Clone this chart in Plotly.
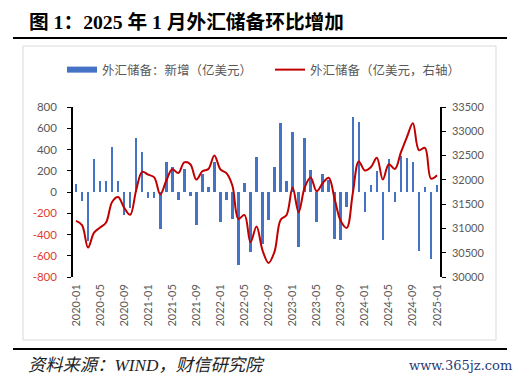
import plotly.graph_objects as go

# ---------------- data ----------------
months = [f"{y}-{m:02d}" for y in range(2020, 2025) for m in range(1, 13)] + ["2025-01"]

reserve_change = [
    76, -88, -461, 309, 102, 106, 421, 102, -220, -146, 505, 380,
    -58, -57, -350, 282, 236, -78, 219, -38, -315, 170, 48, 278,
    -286, -78, -258, -683, 81, -565, 328, -492, -259, 234, 651, 102,
    568, -513, 507, 209, -283, 165, 113, -442, -450, -139, 706, 662,
    -187, 65, 199, -449, 312, -96, 340, 318, 282, -553, 48, -635,
    69,
]

reserves = [
    31155, 31067, 30606, 30915, 31017, 31123, 31544, 31646, 31426, 31280, 31785, 32165,
    32107, 32050, 31700, 31982, 32218, 32140, 32359, 32321, 32006, 32176, 32224, 32502,
    32216, 32138, 31880, 31197, 31278, 30713, 31041, 30549, 30290, 30524, 31175, 31277,
    31845, 31332, 31839, 32048, 31765, 31930, 32043, 31601, 31151, 31012, 31718, 32380,
    32193, 32258, 32457, 32008, 32320, 32224, 32564, 32882, 33164, 32611, 32659, 32024,
    32093,
]

x_tick_idx = list(range(0, 61, 4))
x_tick_text = [months[i] for i in x_tick_idx]
left_ticks = [800, 600, 400, 200, 0, -200, -400, -600, -800]
right_ticks = [30000, 30500, 31000, 31500, 32000, 32500, 33000, 33500]
right_tick_text = [str(v) for v in right_ticks]

title_text = "图 1：2025 年 1 月外汇储备环比增加"
bar_name = "外汇储备：新增（亿美元）"
line_name = "外汇储备（亿美元，右轴）"
source_text = "资料来源：WIND，财信研究院"
watermark_text = "www.365jz.com"

# ---------------- style ----------------
OFF = 8                      # default page margin of the browser body
WIN_W, WIN_H = 522, 379
W, H = WIN_W - OFF, WIN_H - OFF
PLOT_L, PLOT_R, PLOT_T, PLOT_B = 73, 440, 107, 277   # window pixels
ML, MT = PLOT_L - OFF, PLOT_T - OFF
MR, MB = W - (PLOT_R - OFF), H - (PLOT_B - OFF)
PW, PH = PLOT_R - PLOT_L, PLOT_B - PLOT_T

BLUE = "#4472C4"
RED = "#C00000"
GRAY = "#595959"
NEG_RED = "#E03C31"
TICK_FONT = "Lato, Open Sans, sans-serif"
CJK = "Noto Sans CJK SC"


def px_x(x):
    return (x - PLOT_L) / PW


def px_y(y):
    return (PLOT_B - y) / PH


xs = list(range(len(months)))

left_tick_text = [
    (f'<span style="color:{NEG_RED}">{v}</span>' if v < 0 else str(v)) for v in left_ticks
]

fig = go.Figure()
fig.add_trace(go.Bar(
    x=xs, y=reserve_change, marker_color=BLUE, marker_line_width=0,
    width=0.42, name=bar_name, showlegend=False, legendgroup="b",
))
fig.add_trace(go.Scatter(
    x=xs, y=reserves, yaxis="y2", mode="lines",
    line=dict(color=RED, width=2, shape="spline", smoothing=1.0),
    name=line_name, showlegend=False, legendgroup="l",
))
# legend entries
fig.add_trace(go.Scatter(x=[None], y=[None], mode="lines",
                         line=dict(color=BLUE, width=6), name=bar_name, legendgroup="b"))
fig.add_trace(go.Scatter(x=[None], y=[None], mode="lines",
                         line=dict(color=RED, width=2), name=line_name, legendgroup="l"))

fig.update_layout(
    width=W, height=H,
    margin=dict(l=ML, r=MR, t=MT, b=MB, pad=0),
    paper_bgcolor="white", plot_bgcolor="white",
    showlegend=True,
    legend=dict(
        orientation="h", x=px_x(62), xanchor="left", y=px_y(70), yanchor="middle",
        font=dict(family=CJK, size=12.5, color=GRAY),
        bgcolor="rgba(0,0,0,0)", entrywidth=163, entrywidthmode="pixels",
        itemclick=False, itemdoubleclick=False,
    ),
    bargap=0,
    xaxis=dict(
        range=[-0.5, 60.5], tickmode="array", tickvals=x_tick_idx, ticktext=x_tick_text,
        tickangle=-90, showgrid=False, zeroline=False, showline=False, ticks="",
        tickfont=dict(family=TICK_FONT, size=11, color=GRAY), ticklabelstandoff=4,
    ),
    xaxis2=dict(
        overlaying="x", anchor="free", position=0.5, range=[-0.5, 60.5],
        tickmode="array", tickvals=[i + 3.5 for i in range(0, 60, 4)],
        showticklabels=False, ticks="outside", ticklen=3, tickcolor="black",
        showline=True, linecolor="black", linewidth=1.5, showgrid=False, zeroline=False,
        side="bottom",
    ),
    yaxis=dict(
        range=[-800, 800], tickmode="array", tickvals=left_ticks, ticktext=left_tick_text,
        showgrid=False, zeroline=False, showline=True, linecolor="black", linewidth=1.5,
        ticks="outside", ticklen=4, tickcolor="black",
        tickfont=dict(family=TICK_FONT, size=11.5, color=GRAY), ticklabelstandoff=8,
    ),
    yaxis2=dict(
        range=[30000, 33500], tickmode="array", tickvals=right_ticks, ticktext=right_tick_text,
        overlaying="y", side="right", anchor="x",
        showgrid=False, zeroline=False, showline=True, linecolor="black", linewidth=1.5,
        ticks="outside", ticklen=4, tickcolor="black",
        tickfont=dict(family=TICK_FONT, size=11, color=GRAY), ticklabelstandoff=4,
    ),
)

shapes = [
    dict(type="line", xref="paper", yref="paper", x0=px_x(13), x1=px_x(507),
         y0=px_y(38), y1=px_y(38), line=dict(color="black", width=2)),
    dict(type="rect", xref="paper", yref="paper", x0=px_x(23), x1=px_x(496),
         y0=px_y(46), y1=px_y(340), line=dict(color="#D9D9D9", width=1), layer="below"),
    dict(type="line", xref="paper", yref="paper", x0=px_x(13), x1=px_x(507),
         y0=px_y(349), y1=px_y(349), line=dict(color="black", width=2)),
]
fig.update_layout(shapes=shapes)

fig.add_annotation(
    text=f"<b>{title_text}</b>", xref="paper", yref="paper",
    x=px_x(27), y=px_y(22), xanchor="left", yanchor="middle", showarrow=False,
    font=dict(family=f"Liberation Serif, {CJK}", size=19.7, color="black"),
)
fig.add_annotation(
    text=f"<i>{source_text}</i>", xref="paper", yref="paper",
    x=px_x(26), y=px_y(365), xanchor="left", yanchor="middle", showarrow=False,
    font=dict(family=f"Liberation Serif, {CJK}", size=17.3, color="#222222"),
)
fig.add_annotation(
    text=watermark_text, xref="paper", yref="paper",
    x=px_x(514), y=px_y(365), xanchor="right", yanchor="middle", showarrow=False,
    font=dict(family="DejaVu Serif", size=13, color="#1F3A7A"),
)

fig.write_html("out.html")
